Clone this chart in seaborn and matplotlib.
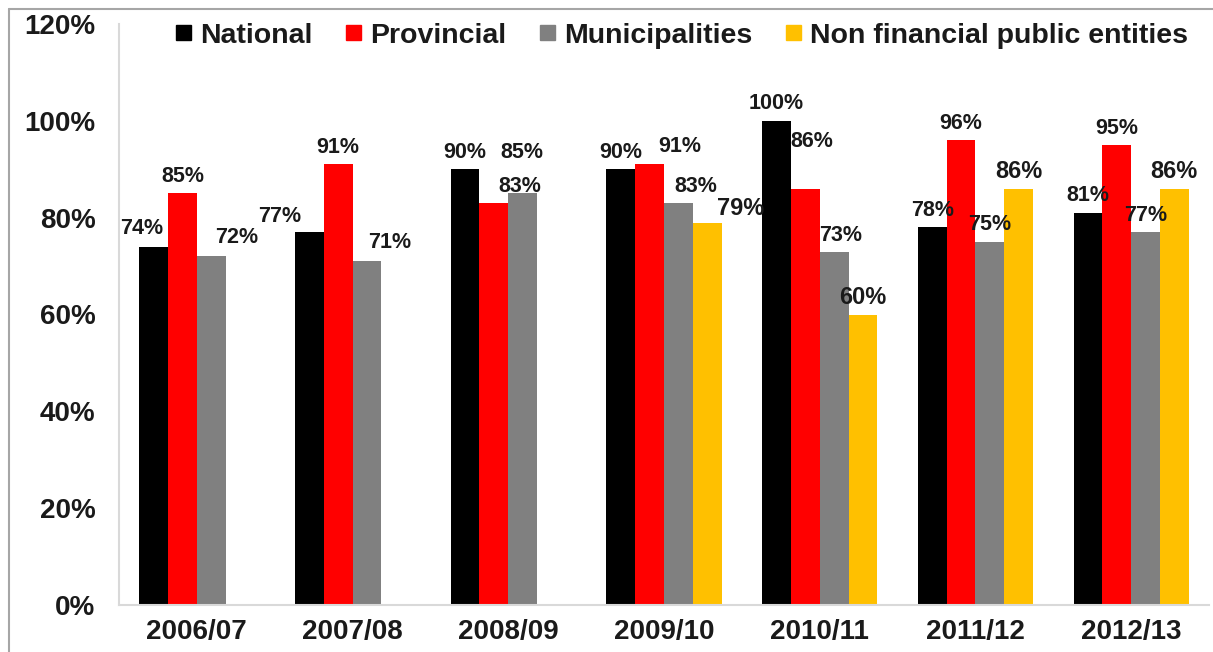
import numpy as np
import pandas as pd
import matplotlib
matplotlib.use("Agg")
import matplotlib.pyplot as plt
from matplotlib.lines import Line2D
import seaborn as sns

# ---------------- data ----------------
years = ["2006/07", "2007/08", "2008/09", "2009/10", "2010/11", "2011/12", "2012/13"]
series = ["National", "Provincial", "Municipalities", "Non financial public entities"]
national = [74, 77, 90, 90, 100, 78, 81]
provincial = [85, 91, 83, 91, 86, 96, 95]
municipalities = [72, 71, 85, 83, 73, 75, 77]
non_financial = [np.nan, np.nan, np.nan, 79, 60, 86, 86]
y_ticks = [0, 20, 40, 60, 80, 100, 120]

# ---------------- style ----------------
colors = ["#000000", "#FF0000", "#808080", "#FFC000"]
text_color = "#1a1a1a"
# label offsets in pixels (dx, dy) relative to bar top-centre; default (0, 17)
label_offsets = {
    (0, 0): (-12, 18), (0, 1): (-30, 16),
    (1, 2): (26, 17), (1, 3): (30, 18), (1, 4): (7, 47),
    (2, 0): (25, 19), (2, 1): (23, 19), (2, 2): (-1, 41), (2, 3): (17, 17), (2, 4): (7, 16),
    (3, 3): (33, 14),
}

sns.set_theme(style="white")
plt.rcParams["font.family"] = ["Liberation Sans", "DejaVu Sans"]
plt.rcParams["font.weight"] = "bold"

values = [national, provincial, municipalities, non_financial]
rows = []
for s, vals in zip(series, values):
    for y, v in zip(years, vals):
        rows.append({"Year": y, "Series": s, "Value": v})
df = pd.DataFrame(rows).dropna()

W, H = 1213, 652
fig = plt.figure(figsize=(W / 100, H / 100), dpi=100)
ax = fig.add_axes([119 / W, 1 - 605 / H, (1209 - 119) / W, (605 - 24) / H])

sns.barplot(data=df, x="Year", y="Value", hue="Series", order=years,
            hue_order=series, palette=colors, width=0.74, saturation=1,
            linewidth=0, ax=ax)

ax.set_ylim(0, 120)
ax.set_xlim(-0.5, len(years) - 0.5)
ax.set_yticks(y_ticks)
ax.set_yticklabels([f"{t}%" for t in y_ticks])
ax.set_xlabel("")
ax.set_ylabel("")
ax.tick_params(axis="y", length=0, pad=17, labelsize=20, labelcolor=text_color)
ax.tick_params(axis="x", length=0, pad=10, labelsize=20, labelcolor=text_color)
for lab in ax.get_xticklabels() + ax.get_yticklabels():
    lab.set_fontweight("bold")
for sp in ["top", "right"]:
    ax.spines[sp].set_visible(False)
for sp in ["left", "bottom"]:
    ax.spines[sp].set_color("#d9d9d9")
    ax.spines[sp].set_linewidth(1.5)
ax.grid(False)

# data labels
for si, cont in enumerate(ax.containers):
    for patch in cont.patches:
        h = patch.get_height()
        if np.isnan(h):
            continue
        xc = patch.get_x() + patch.get_width() / 2
        ci = int(round(xc))
        dx, dy = label_offsets.get((si, ci), (0, 17))
        ax.annotate(f"{h:.0f}%", (xc, h), xytext=(dx, dy), textcoords="offset pixels",
                    ha="center", va="center", fontsize=17 if si == 3 else 15.5,
                    fontweight="bold", color=text_color, annotation_clip=False)

# legend
handles = [plt.Rectangle((0, 0), 1, 1, color=c) for c in colors]
leg = ax.legend(handles, series, loc="center left", ncol=4, frameon=False,
                bbox_to_anchor=(176 / W, 1 - 36 / H), bbox_transform=fig.transFigure,
                borderpad=0, borderaxespad=0, handlelength=0.53, handleheight=0.42,
                handletextpad=0.3, columnspacing=1.2,
                prop={"size": 20.5, "weight": "bold"})
for t in leg.get_texts():
    t.set_color(text_color)

# outer frame lines
fig.add_artist(Line2D([9 / W, 9 / W], [0, 1 - 9 / H], transform=fig.transFigure,
                      color="#a6a6a6", lw=1.5))
fig.add_artist(Line2D([9 / W, 1], [1 - 9 / H, 1 - 9 / H], transform=fig.transFigure,
                      color="#a6a6a6", lw=1.5))

fig.savefig("out.png", dpi=100)
